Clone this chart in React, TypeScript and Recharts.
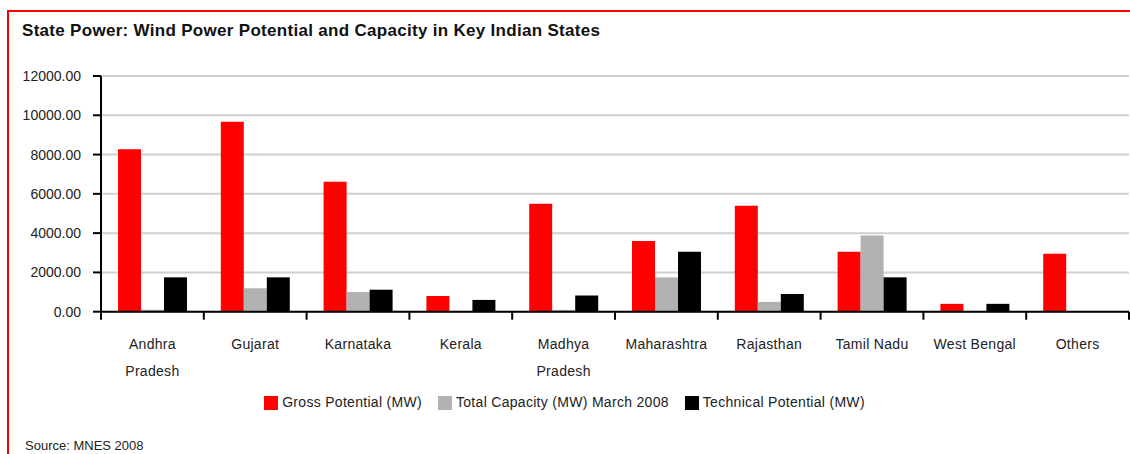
import { Bar, BarChart, CartesianGrid, Legend, XAxis, YAxis } from 'recharts'

const states = ['Andhra\nPradesh', 'Gujarat', 'Karnataka', 'Kerala', 'Madhya\nPradesh', 'Maharashtra', 'Rajasthan', 'Tamil Nadu', 'West Bengal', 'Others']
const grossPotential = [8275, 9675, 6620, 800, 5500, 3600, 5400, 3050, 400, 2950]
const totalCapacity = [100, 1200, 1000, 0, 90, 1750, 500, 3875, 0, 0]
const technicalPotential = [1750, 1750, 1120, 600, 825, 3050, 900, 1750, 400, 0]
const yTicks = [0, 2000, 4000, 6000, 8000, 10000, 12000]
const seriesOrder = ['gross', 'capacity', 'technical']

const data = states.map((state, i) => ({
  state,
  gross: grossPotential[i],
  capacity: totalCapacity[i],
  technical: technicalPotential[i],
}))

const font = '"Liberation Sans", Arial, sans-serif'

function StateTick(props: any) {
  const { x, y, payload, index, visibleTicksCount } = props
  const half = payload.offset ?? 51.4
  const lines = String(payload.value).split('\n')
  return <g>
    <line x1={x - half} x2={x - half} y1={y} y2={y + 8} stroke="#000" strokeWidth={2} />
    {index === visibleTicksCount - 1 && <line x1={x + half} x2={x + half} y1={y} y2={y + 8} stroke="#000" strokeWidth={2} />}
    <text x={x} y={y + 37} textAnchor="middle" fontSize={14} fontFamily={font} fill="#222" letterSpacing={0.3}>
      {lines.map((l, i) => <tspan key={i} x={x} dy={i === 0 ? 0 : 27}>{l}</tspan>)}
    </text>
  </g>
}

export default function App() {
  return <div style={{ position: 'absolute', left: 0, top: 0, width: 1130, height: 454, overflow: 'hidden', background: '#fff', fontFamily: font }}>
    <div style={{ position: 'absolute', left: 7, top: 10, width: 1200, height: 500, borderTop: '2px solid #FF0000', borderLeft: '2px solid #FF0000' }} />
    <div style={{ position: 'absolute', left: 22, top: 21, fontSize: 17, fontWeight: 'bold', color: '#111', whiteSpace: 'nowrap', letterSpacing: 0.3 }}>
      State Power: Wind Power Potential and Capacity in Key Indian States
    </div>
    <BarChart width={1130} height={454} data={data} margin={{ top: 76, right: 1, left: 0, bottom: 44 }}
      barCategoryGap={17} barGap={0} style={{ position: 'absolute', left: 0, top: 0 }}>
      <CartesianGrid vertical={false} stroke="#D0D0D0" strokeWidth={2} />
      <XAxis dataKey="state" height={82} tick={<StateTick />} tickSize={0} tickMargin={0} interval={0}
        axisLine={{ stroke: '#000', strokeWidth: 2 }} tickLine={false} />
      <YAxis width={101} domain={[0, 12000]} ticks={yTicks} tickFormatter={(v: number) => v.toFixed(2)}
        tickSize={8} tickMargin={12} axisLine={{ stroke: '#000', strokeWidth: 2 }} tickLine={{ stroke: '#000', strokeWidth: 2 }}
        tick={{ fontSize: 14, fontFamily: font, fill: '#222' }} interval={0} />
      <Legend verticalAlign="bottom" iconType="square" iconSize={14}
        itemSorter={(item: any) => seriesOrder.indexOf(item.dataKey)}
        formatter={(value: string) => <span style={{ color: '#222', fontSize: 14, fontFamily: font, marginRight: 6, letterSpacing: 0.3 }}>{value}</span>}
        wrapperStyle={{ fontFamily: font, fontSize: 14, left: 8 }} />
      <Bar dataKey="gross" name="Gross Potential (MW)" fill="#FF0000" isAnimationActive={false} />
      <Bar dataKey="capacity" name="Total Capacity (MW) March 2008" fill="#B2B2B2" isAnimationActive={false} />
      <Bar dataKey="technical" name="Technical Potential (MW)" fill="#000000" isAnimationActive={false} />
    </BarChart>
    <div style={{ position: 'absolute', left: 25, top: 438, fontSize: 13, color: '#222', whiteSpace: 'nowrap' }}>Source: MNES 2008</div>
  </div>
}
